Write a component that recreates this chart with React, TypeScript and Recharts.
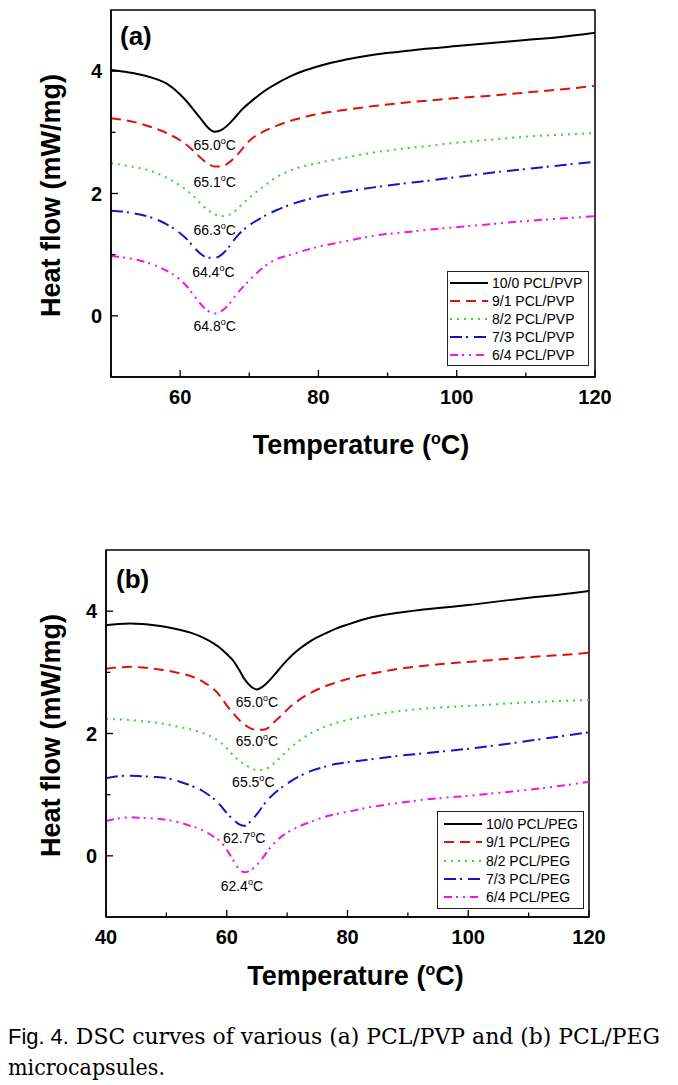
import React from 'react';
import { LineChart, Line, XAxis, YAxis, Legend, ReferenceDot, ReferenceArea } from 'recharts';

// ---------- Panel (a): PCL/PVP ----------
const tempsA = [50, 52, 54, 56, 58, 60, 61, 62, 63, 64, 65, 66, 67, 68, 69, 70, 72, 74, 76, 78, 80, 84, 88, 92, 96, 100, 105, 110, 115, 120];
const pvp10_0 = [4.02, 3.99, 3.95, 3.89, 3.8, 3.62, 3.5, 3.36, 3.22, 3.08, 3.01, 3.04, 3.13, 3.25, 3.38, 3.48, 3.66, 3.8, 3.92, 4.01, 4.08, 4.19, 4.27, 4.32, 4.37, 4.41, 4.46, 4.51, 4.56, 4.63];
const pvp9_1 = [3.23, 3.2, 3.15, 3.08, 2.99, 2.87, 2.79, 2.69, 2.58, 2.49, 2.44, 2.44, 2.5, 2.6, 2.73, 2.86, 3.01, 3.11, 3.19, 3.25, 3.3, 3.37, 3.43, 3.48, 3.52, 3.56, 3.6, 3.65, 3.7, 3.76];
const pvp8_2 = [2.5, 2.46, 2.42, 2.36, 2.26, 2.13, 2.05, 1.95, 1.83, 1.73, 1.66, 1.63, 1.65, 1.72, 1.83, 1.93, 2.11, 2.27, 2.38, 2.45, 2.5, 2.59, 2.67, 2.73, 2.78, 2.83, 2.88, 2.93, 2.96, 2.99];
const pvp7_3 = [1.72, 1.7, 1.66, 1.6, 1.5, 1.35, 1.25, 1.12, 1.01, 0.95, 0.95, 1.0, 1.12, 1.27, 1.39, 1.48, 1.62, 1.73, 1.82, 1.89, 1.95, 2.03, 2.1, 2.16, 2.21, 2.27, 2.34, 2.4, 2.46, 2.52];
const pvp6_4 = [0.98, 0.95, 0.91, 0.84, 0.74, 0.59, 0.48, 0.33, 0.19, 0.08, 0.04, 0.08, 0.18, 0.33, 0.46, 0.58, 0.79, 0.93, 1.0, 1.07, 1.13, 1.22, 1.31, 1.36, 1.41, 1.45, 1.5, 1.55, 1.59, 1.63];
const namesA = ['10/0 PCL/PVP', '9/1 PCL/PVP', '8/2 PCL/PVP', '7/3 PCL/PVP', '6/4 PCL/PVP'];
const peakTextA = ['65.0', '65.1', '66.3', '64.4', '64.8'];
const peakLabelTA = [65.0, 65.0, 65.0, 64.8, 65.0];
const peakLabelVA = [2.79, 2.19, 1.4, 0.72, -0.17];
const xTicksA = [50, 60, 70, 80, 90, 100, 110, 120];
const xLabeledA = [60, 80, 100, 120];

// ---------- Panel (b): PCL/PEG ----------
const tempsB = [40, 42, 44, 46, 48, 50, 52, 54, 56, 58, 59, 60, 61, 62, 63, 64, 65, 66, 67, 68, 69, 70, 72, 74, 76, 78, 80, 84, 88, 92, 96, 100, 105, 110, 115, 120];
const peg10_0 = [3.77, 3.79, 3.8, 3.79, 3.77, 3.74, 3.7, 3.65, 3.57, 3.46, 3.39, 3.3, 3.2, 3.05, 2.88, 2.77, 2.72, 2.77, 2.86, 2.97, 3.09, 3.2, 3.38, 3.52, 3.62, 3.71, 3.78, 3.9, 3.97, 4.02, 4.06, 4.1, 4.16, 4.22, 4.27, 4.33];
const peg9_1 = [3.06, 3.08, 3.09, 3.08, 3.06, 3.03, 2.99, 2.94, 2.85, 2.71, 2.6, 2.46, 2.34, 2.23, 2.14, 2.08, 2.06, 2.06, 2.1, 2.2, 2.29, 2.39, 2.55, 2.67, 2.76, 2.83, 2.89, 2.98, 3.05, 3.1, 3.14, 3.17, 3.21, 3.25, 3.28, 3.32];
const peg8_2 = [2.24, 2.23, 2.22, 2.2, 2.18, 2.15, 2.11, 2.07, 2.01, 1.92, 1.85, 1.76, 1.65, 1.56, 1.49, 1.44, 1.4, 1.41, 1.45, 1.53, 1.62, 1.72, 1.88, 2.01, 2.1, 2.17, 2.22, 2.3, 2.36, 2.4, 2.43, 2.45, 2.48, 2.51, 2.53, 2.55];
const peg7_3 = [1.27, 1.3, 1.31, 1.3, 1.29, 1.27, 1.22, 1.15, 1.06, 0.92, 0.82, 0.7, 0.6, 0.52, 0.49, 0.57, 0.68, 0.82, 0.94, 1.03, 1.11, 1.18, 1.3, 1.39, 1.45, 1.5, 1.53, 1.58, 1.63, 1.67, 1.71, 1.75, 1.81, 1.88, 1.95, 2.02];
const peg6_4 = [0.57, 0.61, 0.63, 0.62, 0.61, 0.59, 0.55, 0.49, 0.42, 0.3, 0.23, 0.1, -0.06, -0.21, -0.27, -0.23, -0.15, -0.03, 0.11, 0.22, 0.31, 0.38, 0.48, 0.56, 0.63, 0.68, 0.72, 0.8, 0.86, 0.91, 0.95, 0.98, 1.03, 1.08, 1.14, 1.21];
const namesB = ['10/0 PCL/PEG', '9/1 PCL/PEG', '8/2 PCL/PEG', '7/3 PCL/PEG', '6/4 PCL/PEG'];
const peakTextB = ['65.0', '65.0', '65.5', '62.7', '62.4'];
const peakLabelTB = [65.0, 65.0, 64.4, 62.9, 62.5];
const peakLabelVB = [2.51, 1.87, 1.21, 0.29, -0.5];
const xTicksB = [40, 50, 60, 70, 80, 90, 100, 110, 120];
const xLabeledB = [40, 60, 80, 100, 120];

const yDomain: [number, number] = [-1, 5];
const yTicks = [-1, 0, 1, 2, 3, 4, 5];
const yLabeled = [0, 2, 4];

// ---------- Styles ----------
const SANS = '"Liberation Sans", Arial, Helvetica, sans-serif';
const lineStyles = [
  { color: '#000000', dash: undefined as string | undefined },
  { color: '#e01010', dash: '10 6' },
  { color: '#22e022', dash: '2 5' },
  { color: '#1414cc', dash: '12 4 2 6' },
  { color: '#ee14ee', dash: '8 4 2 5 2 5' },
];

function buildRows(temps: number[], series: number[][]) {
  return temps.map((t, i) => {
    const row: Record<string, number> = { T: t };
    series.forEach((s, k) => {
      row['s' + k] = s[i];
    });
    return row;
  });
}

const makeXTick = (labeled: number[]) => (props: any) => {
  const { x, y, payload } = props;
  const major = labeled.includes(payload.value);
  return (
    <g>
      <line x1={x} x2={x} y1={y} y2={y - (major ? 7 : 4.5)} stroke="#000" strokeWidth={1.3} />
      {major && (
        <text x={x} y={y + 27} textAnchor="middle" fontFamily={SANS} fontWeight="bold" fontSize={20} fill="#000">
          {payload.value}
        </text>
      )}
    </g>
  );
};

const YTick = (props: any) => {
  const { x, y, payload } = props;
  const major = yLabeled.includes(payload.value);
  const edge = payload.value === -1 || payload.value === 5;
  if (edge) return <g />;
  return (
    <g>
      <line x1={x} x2={x + (major ? 7 : 4.5)} y1={y} y2={y} stroke="#000" strokeWidth={1.3} />
      {major && (
        <text x={x - 9} y={y + 7} textAnchor="end" fontFamily={SANS} fontWeight="bold" fontSize={20} fill="#000">
          {payload.value}
        </text>
      )}
    </g>
  );
};

const XTitle = (props: any) => {
  const vb = props.viewBox || {};
  const cx = vb.x + vb.width / 2 + props.dx;
  const y = vb.y + props.dy;
  return (
    <text x={cx} y={y} textAnchor="middle" fontFamily={SANS} fontWeight="bold" fontSize={27} fill="#000">
      Temperature (
      <tspan dy={-10} fontSize={16}>o</tspan>
      <tspan dy={10}>C)</tspan>
    </text>
  );
};

const YTitle = (props: any) => {
  const vb = props.viewBox || {};
  const cy = vb.y + vb.height / 2 + 2;
  const x = props.baseX;
  return (
    <text
      x={x}
      y={cy}
      textAnchor="middle"
      transform={`rotate(-90 ${x} ${cy})`}
      fontFamily={SANS}
      fontWeight="bold"
      fontSize={27}
      fill="#000"
    >
      Heat flow (mW/mg)
    </text>
  );
};

const PeakLabel = (props: any) => {
  const { cx, cy, text } = props;
  return (
    <text x={cx} y={cy + 5} textAnchor="middle" fontFamily={SANS} fontSize={14} fill="#000">
      {text}
      <tspan dy={-6} fontSize={9}>o</tspan>
      <tspan dy={6}>C</tspan>
    </text>
  );
};

type LegendBox = { left: number; top: number; width: number; height: number; padLeft: number; padTop: number; rowH: number; lineW: number; gap: number };

const makeLegend = (names: string[], box: LegendBox) => () => (
  <div
    style={{
      width: box.width,
      height: box.height,
      boxSizing: 'border-box',
      border: '1.5px solid #222',
      background: '#fff',
      paddingLeft: box.padLeft,
      paddingTop: box.padTop,
      fontFamily: SANS,
      fontSize: 14,
      color: '#000',
    }}
  >
    {names.map((n, k) => (
      <div key={n} style={{ display: 'flex', alignItems: 'center', height: box.rowH, whiteSpace: 'nowrap' }}>
        <svg width={box.lineW} height={6} style={{ display: 'block' }}>
          <line x1={0} x2={box.lineW} y1={3} y2={3} stroke={lineStyles[k].color} strokeWidth={2} strokeDasharray={lineStyles[k].dash} />
        </svg>
        <span style={{ marginLeft: box.gap, lineHeight: '14px' }}>{n}</span>
      </div>
    ))}
  </div>
);

type PanelProps = {
  temps: number[];
  series: number[][];
  names: string[];
  peakText: string[];
  peakT: number[];
  peakV: number[];
  xDomain: [number, number];
  xTicks: number[];
  xLabeled: number[];
  marginLeft: number;
  marginRight: number;
  top: number;
  panelLabel: string;
  panelLabelX: number;
  panelLabelY: number;
  titleDx: number;
  titleDy: number;
  legend: LegendBox;
};

function Panel(p: PanelProps) {
  const data = buildRows(p.temps, p.series);
  return (
    <div style={{ position: 'absolute', left: 0, top: p.top, width: 678, height: 480 }}>
      <LineChart
        width={678}
        height={480}
        data={data}
        margin={{ top: 10, right: p.marginRight, left: p.marginLeft, bottom: 13 }}
      >
        <XAxis
          dataKey="T"
          type="number"
          domain={p.xDomain}
          allowDataOverflow
          ticks={p.xTicks}
          interval={0}
          height={90}
          tickSize={0}
          tickMargin={0}
          tickLine={false}
          tick={makeXTick(p.xLabeled)}
          axisLine={{ stroke: '#000', strokeWidth: 1.5 }}
          label={<XTitle dx={p.titleDx} dy={p.titleDy} />}
        />
        <YAxis
          type="number"
          domain={yDomain}
          allowDataOverflow
          ticks={yTicks}
          interval={0}
          width={100}
          tickSize={0}
          tickMargin={0}
          tickLine={false}
          tick={YTick}
          axisLine={{ stroke: '#000', strokeWidth: 1.5 }}
          label={<YTitle baseX={60} />}
        />
        <ReferenceArea
          x1={p.xDomain[0]}
          x2={p.xDomain[1]}
          y1={yDomain[0]}
          y2={yDomain[1]}
          fill="none"
          fillOpacity={0}
          stroke="#000"
          strokeWidth={1.5}
          ifOverflow="visible"
        />
        {p.series.map((_, k) => (
          <Line
            key={k}
            type="monotone"
            dataKey={'s' + k}
            name={p.names[k]}
            stroke={lineStyles[k].color}
            strokeWidth={2}
            strokeDasharray={lineStyles[k].dash}
            dot={false}
            activeDot={false}
            isAnimationActive={false}
          />
        ))}
        {p.peakText.map((t, k) => (
          <ReferenceDot
            key={'pk' + k}
            x={p.peakT[k]}
            y={p.peakV[k]}
            r={0}
            ifOverflow="visible"
            shape={(sp: any) => <PeakLabel cx={sp.cx} cy={sp.cy} text={t} />}
          />
        ))}
        <Legend
          layout="vertical"
          align="center"
          verticalAlign="middle"
          content={makeLegend(p.names, p.legend)}
          wrapperStyle={{ left: p.legend.left, top: p.legend.top, width: p.legend.width, height: p.legend.height }}
        />
        <text x={p.panelLabelX} y={p.panelLabelY} fontFamily={SANS} fontWeight="bold" fontSize={26} fill="#000">
          {p.panelLabel}
        </text>
      </LineChart>
    </div>
  );
}

export default function App() {
  return (
    <div style={{ position: 'absolute', left: 0, top: 0, width: 678, height: 1085, background: '#fff', overflow: 'hidden' }}>
      <Panel
        temps={tempsA}
        series={[pvp10_0, pvp9_1, pvp8_2, pvp7_3, pvp6_4]}
        names={namesA}
        peakText={peakTextA}
        peakT={peakLabelTA}
        peakV={peakLabelVA}
        xDomain={[50, 120]}
        xTicks={xTicksA}
        xLabeled={xLabeledA}
        marginLeft={11}
        marginRight={83}
        top={0}
        panelLabel="(a)"
        panelLabelX={120}
        panelLabelY={45}
        titleDx={8}
        titleDy={77}
        legend={{ left: 447, top: 271, width: 142, height: 95, padLeft: 2, padTop: 2, rowH: 18, lineW: 38, gap: 4 }}
      />
      <Panel
        temps={tempsB}
        series={[peg10_0, peg9_1, peg8_2, peg7_3, peg6_4]}
        names={namesB}
        peakText={peakTextB}
        peakT={peakLabelTB}
        peakV={peakLabelVB}
        xDomain={[40, 120]}
        xTicks={xTicksB}
        xLabeled={xLabeledB}
        marginLeft={6}
        marginRight={89}
        top={540}
        panelLabel="(b)"
        panelLabelX={116}
        panelLabelY={48}
        titleDx={8}
        titleDy={68}
        legend={{ left: 437, top: 271, width: 147, height: 98, padLeft: 6, padTop: 3, rowH: 18.3, lineW: 38, gap: 4 }}
      />
      <svg width={678} height={70} style={{ position: 'absolute', left: 0, top: 1015 }}>
        <text x={8} y={29} fontSize={22} fill="#000" textLength={652} lengthAdjust="spacingAndGlyphs">
          <tspan fontFamily={SANS}>Fig. 4.</tspan>
          <tspan fontFamily='"DejaVu Serif", serif'> DSC curves of various (a) PCL/PVP and (b) PCL/PEG</tspan>
        </text>
        <text x={8} y={60} fontSize={22} fill="#000" fontFamily='"DejaVu Serif", serif' textLength={157} lengthAdjust="spacingAndGlyphs">
          microcapsules.
        </text>
      </svg>
    </div>
  );
}
